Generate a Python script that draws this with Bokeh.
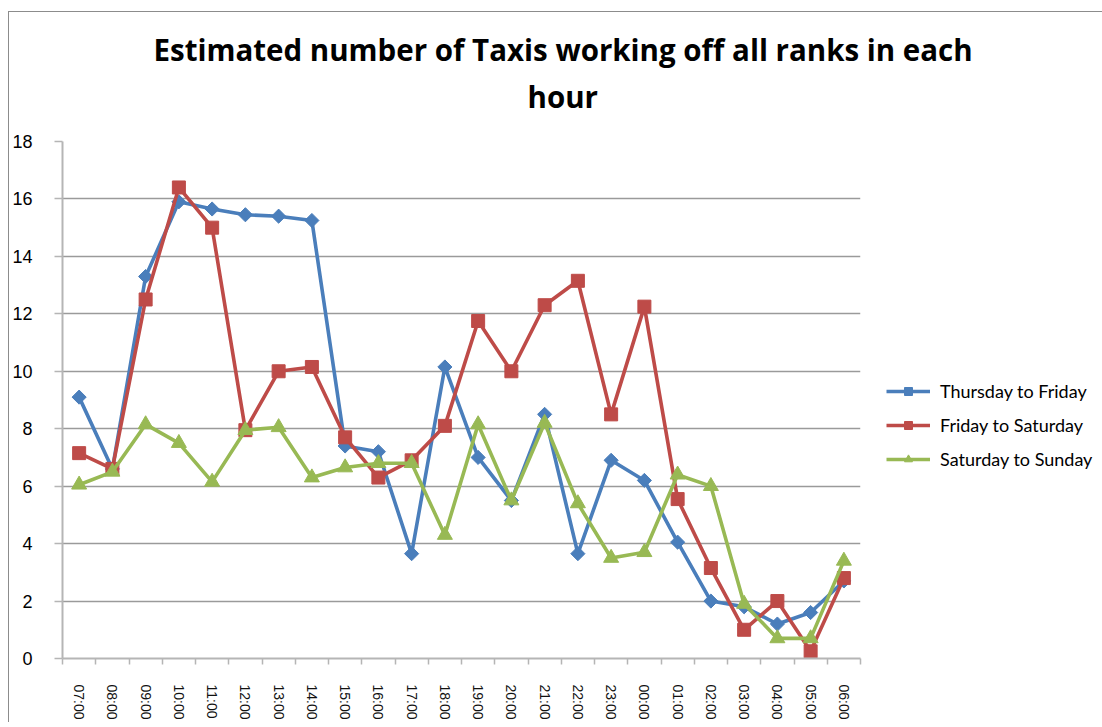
import math
from bokeh.plotting import figure
from bokeh.models import FixedTicker, Legend, LegendItem, Title, Range1d
from bokeh.embed import file_html
from bokeh.resources import INLINE

hours = ["07:00", "08:00", "09:00", "10:00", "11:00", "12:00", "13:00", "14:00",
         "15:00", "16:00", "17:00", "18:00", "19:00", "20:00", "21:00", "22:00",
         "23:00", "00:00", "01:00", "02:00", "03:00", "04:00", "05:00", "06:00"]

thursday_to_friday = [9.1, 6.6, 13.3, 15.9, 15.65, 15.45, 15.4, 15.25,
                      7.4, 7.2, 3.65, 10.15, 7.0, 5.5, 8.5, 3.65,
                      6.9, 6.2, 4.05, 2.0, 1.8, 1.2, 1.6, 2.7]
friday_to_saturday = [7.15, 6.6, 12.5, 16.4, 15.0, 7.95, 10.0, 10.15,
                      7.7, 6.3, 6.9, 8.1, 11.75, 10.0, 12.3, 13.15,
                      8.5, 12.25, 5.55, 3.15, 1.0, 2.0, 0.25, 2.8]
saturday_to_sunday = [6.05, 6.5, 8.15, 7.5, 6.15, 7.95, 8.05, 6.3,
                      6.65, 6.8, 6.8, 4.3, 8.15, 5.5, 8.2, 5.4,
                      3.5, 3.7, 6.4, 6.0, 1.9, 0.7, 0.7, 3.4]

series_names = ["Thursday to Friday", "Friday to Saturday", "Saturday to Sunday"]
y_ticks = [0, 2, 4, 6, 8, 10, 12, 14, 16, 18]
title_lines = ["Estimated number of Taxis working off all ranks in each", "hour"]

x = list(range(len(hours)))

p = figure(frame_width=798, frame_height=517,
           x_range=Range1d(-0.5, len(hours) - 0.5),
           y_range=Range1d(y_ticks[0], y_ticks[-1]),
           output_backend="svg", toolbar_location=None,
           min_border_left=53, min_border_right=228,
           min_border_top=129, min_border_bottom=61)
p.styles = {"border-left": "1px solid #8c8c8c", "border-top": "1px solid #8c8c8c",
            "margin-top": "11px", "margin-left": "8px"}
p.outline_line_color = None
p.background_fill_color = "white"
p.border_fill_color = "white"

# grid
p.xgrid.grid_line_color = None
p.ygrid.grid_line_color = "#9a9a9a"
p.ygrid.grid_line_width = 1.3

# y axis
p.yaxis.ticker = FixedTicker(ticks=y_ticks)
p.yaxis.axis_line_color = "#b5b5b5"
p.yaxis.axis_line_width = 2
p.yaxis.major_tick_line_color = "#b5b5b5"
p.yaxis.major_tick_line_width = 1.5
p.yaxis.major_tick_in = 0
p.yaxis.major_tick_out = 8
p.yaxis.minor_tick_line_color = None
p.yaxis.major_label_standoff = 22
p.yaxis.major_label_text_font = "Liberation Sans"
p.yaxis.major_label_text_font_size = "18px"
p.yaxis.major_label_text_color = "black"

# x axis
p.xaxis.ticker = FixedTicker(ticks=x, minor_ticks=[i - 0.5 for i in range(len(hours) + 1)])
p.xaxis.major_label_overrides = {i: h for i, h in enumerate(hours)}
p.xaxis.major_label_orientation = "vertical"
p.xaxis.axis_line_color = "#b5b5b5"
p.xaxis.axis_line_width = 2
p.xaxis.major_tick_line_color = None
p.xaxis.minor_tick_line_color = "#b5b5b5"
p.xaxis.minor_tick_line_width = 1.5
p.xaxis.minor_tick_in = 0
p.xaxis.minor_tick_out = 6
p.xaxis.major_label_standoff = 20
p.xaxis.major_label_text_font = "Liberation Sans"
p.xaxis.major_label_text_font_size = "14px"
p.xaxis.major_label_text_color = "#111111"

colors = ["#4a7ebb", "#be4b48", "#98b954"]
data = [thursday_to_friday, friday_to_saturday, saturday_to_sunday]
markers = ["square", "square", "triangle"]
angles = [math.pi / 4, 0, 0]
sizes = [10, 13, 15]

items = []
for name, ys, c, m, a, s in zip(series_names, data, colors, markers, angles, sizes):
    lr = p.line(x, ys, line_color=c, line_width=3.6)
    sr = p.scatter(x, ys, marker=m, angle=a, size=s, fill_color=c, line_color=c)
    items.append(LegendItem(label=name, renderers=[lr, sr]))

legend = Legend(items=items, location=(26, 188), orientation="vertical",
                glyph_width=44, glyph_height=20, label_height=20,
                spacing=12, padding=0, margin=0, label_standoff=10,
                label_text_font="Lato", label_text_font_size="18px",
                label_text_color="black",
                border_line_color=None, background_fill_alpha=0)
p.add_layout(legend, "right")

# title: second line nearest to the plot, added first
offsets = [91, 465]
standoffs = [-43, 50]
for txt, off, so in reversed(list(zip(title_lines, offsets, standoffs))):
    p.add_layout(Title(text=txt, align="left", offset=off, standoff=so,
                       text_font="Open Sans", text_font_style="bold",
                       text_font_size="29.5px", text_color="black"), "above")

open("out.html", "w").write(file_html(p, INLINE))
